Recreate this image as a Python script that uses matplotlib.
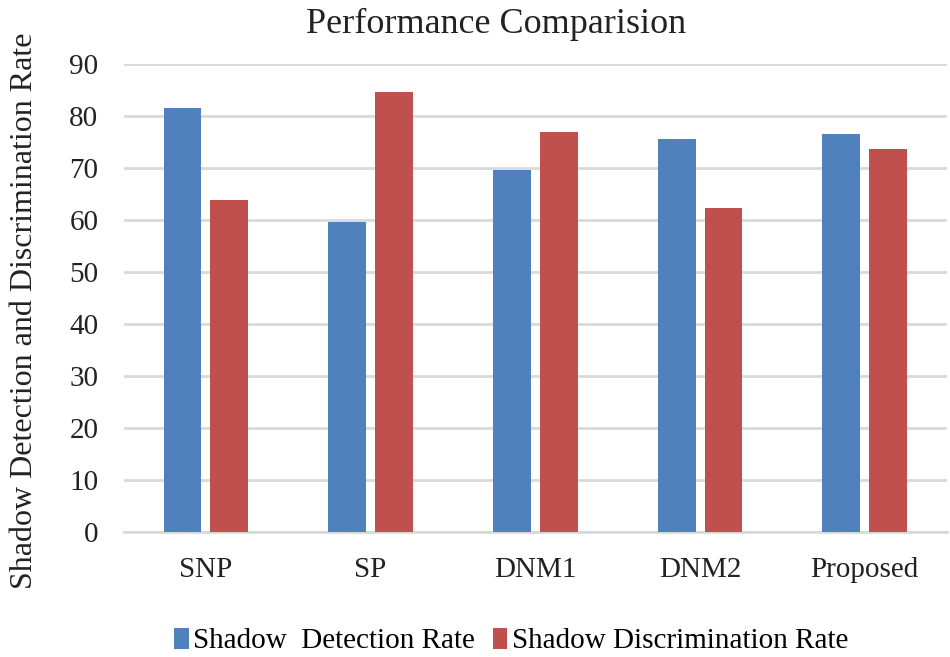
import numpy as np
import matplotlib
matplotlib.use("Agg")
import matplotlib.pyplot as plt

plt.rcParams["font.family"] = ["Liberation Serif", "DejaVu Serif"]

categories = ["SNP", "SP", "DNM1", "DNM2", "Proposed"]
detection_rate = [81.5, 59.6, 69.7, 75.6, 76.6]
discrimination_rate = [63.8, 84.6, 76.9, 62.3, 73.7]
yticks = [0, 10, 20, 30, 40, 50, 60, 70, 80, 90]

fig = plt.figure(figsize=(9.5, 6.57), dpi=100)
ax = fig.add_axes([0.13, 0.19, 0.867, 0.7126])

x = np.arange(len(categories))
width = 0.23
offset = 0.142
ax.bar(x - offset, detection_rate, width, color="#4F81BD", label="Shadow  Detection Rate", zorder=3)
ax.bar(x + offset, discrimination_rate, width, color="#C0504D", label="Shadow Discrimination Rate", zorder=3)

ax.set_xlim(-0.5, len(categories) - 0.5)
ax.set_ylim(0, 90)
ax.set_yticks(yticks)
ax.set_xticks(x)
ax.set_xticklabels(categories)
ax.tick_params(axis="both", length=0, labelsize=21, colors="#222222")
ax.tick_params(axis="x", pad=18)
ax.tick_params(axis="y", pad=18)
ax.yaxis.grid(True, color="#d9d9d9", linewidth=2, zorder=0)
for s in ["top", "right", "left"]:
    ax.spines[s].set_visible(False)
ax.spines["bottom"].set_color("#d9d9d9")
ax.spines["bottom"].set_linewidth(2)

ax.set_title("Performance Comparision", fontsize=26, pad=22, x=0.452, color="#222222")
ax.set_ylabel("Shadow Detection and Discrimination Rate", fontsize=23, labelpad=22, y=0.474,
              color="#222222")

fig.legend(loc="lower center", bbox_to_anchor=(0.538, -0.036), ncol=2, frameon=False,
           fontsize=21, handlelength=0.5, handleheight=0.75, handletextpad=0.15, columnspacing=0.6)

fig.savefig("out.png", dpi=100)
